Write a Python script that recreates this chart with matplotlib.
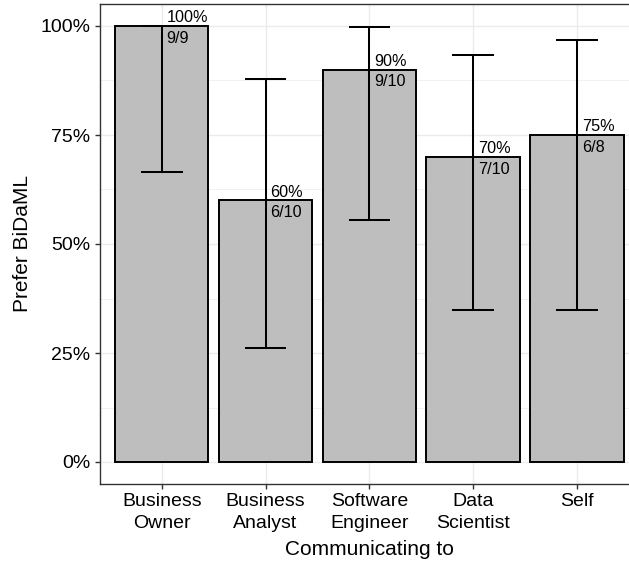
import matplotlib
matplotlib.use("Agg")
import matplotlib.pyplot as plt
from matplotlib.ticker import FixedLocator, PercentFormatter

categories = ["Business\nOwner", "Business\nAnalyst", "Software\nEngineer", "Data\nScientist", "Self"]
successes = [9, 6, 9, 7, 6]
totals = [9, 10, 10, 10, 8]
proportions = [1.00, 0.60, 0.90, 0.70, 0.75]
ci_low = [0.664, 0.262, 0.555, 0.348, 0.349]
ci_high = [1.000, 0.878, 0.997, 0.933, 0.968]
pct_labels = ["100%", "60%", "90%", "70%", "75%"]
frac_labels = [f"{s}/{n}" for s, n in zip(successes, totals)]
y_ticks = [0, 0.25, 0.5, 0.75, 1.0]

plt.rcParams['font.family'] = ['Liberation Sans', 'DejaVu Sans']

W, H = 629, 561
fig = plt.figure(figsize=(W / 100, H / 100), dpi=100)
left, right, top, bottom = 99.5, 639.25, 4.2, 483.8
ax = fig.add_axes([left / W, 1 - bottom / H, (right - left) / W, (bottom - top) / H])

x = list(range(1, len(categories) + 1))
ax.set_xlim(0.4, 5.6)
ax.set_ylim(-0.05, 1.05)

# grid
ax.set_axisbelow(True)
ax.yaxis.set_major_locator(FixedLocator(y_ticks))
ax.yaxis.set_minor_locator(FixedLocator([0.125, 0.375, 0.625, 0.875]))
ax.grid(True, which='major', color='#EBEBEB', linewidth=1.0)
ax.grid(True, which='minor', axis='y', color='#EBEBEB', linewidth=0.5)

ax.bar(x, proportions, width=0.9, color='#BEBEBE', edgecolor='black', linewidth=1.4, zorder=2)
ax.vlines(x, ci_low, ci_high, color='black', linewidth=1.45, zorder=3)
ax.hlines(ci_low, [xi - 0.2 for xi in x], [xi + 0.2 for xi in x], color='black', linewidth=1.45, zorder=3)
ax.hlines(ci_high, [xi - 0.2 for xi in x], [xi + 0.2 for xi in x], color='black', linewidth=1.45, zorder=3)

for xi, p, pl, fl in zip(x, proportions, pct_labels, frac_labels):
    ax.annotate(pl, (xi, p), xytext=(3.5, 0.5), textcoords='offset points',
                ha='left', va='bottom', fontsize=11.7, zorder=4)
    ax.annotate(fl, (xi, p), xytext=(3.5, -3.5), textcoords='offset points',
                ha='left', va='top', fontsize=11.7, zorder=4)

ax.set_xticks(x)
ax.set_xticklabels(categories, fontsize=14, linespacing=1.38)
ax.yaxis.set_major_formatter(PercentFormatter(1.0, decimals=0))
ax.tick_params(axis='both', which='major', length=3.3, width=1.0, color='#333333', labelsize=14, labelcolor='black', pad=3.2)
ax.tick_params(axis='y', which='minor', length=0)

for s in ['left', 'bottom', 'top']:
    ax.spines[s].set_color('#333333')
    ax.spines[s].set_linewidth(1.0)
ax.spines['right'].set_visible(False)

ax.set_xlabel("Communicating to", fontsize=15, labelpad=6)
ax.set_ylabel("Prefer BiDaML", fontsize=15, labelpad=6)

fig.savefig("out.png", dpi=100)
